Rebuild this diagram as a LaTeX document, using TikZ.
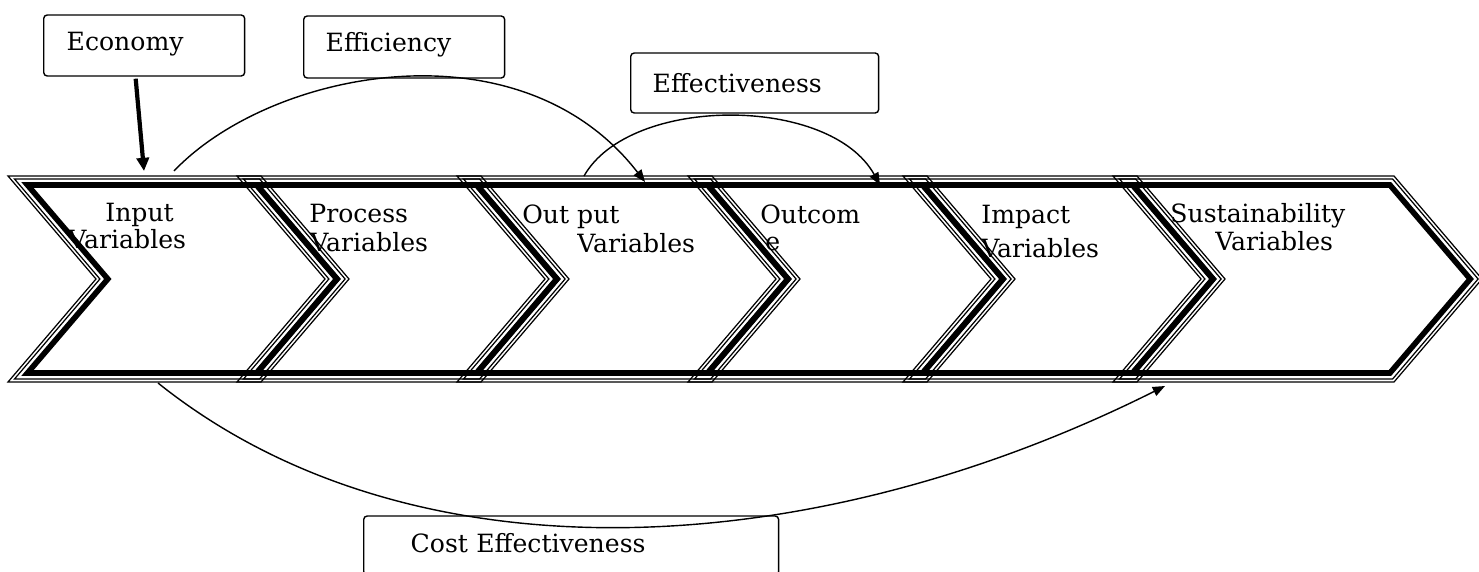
\documentclass[tikz,border=0pt]{standalone}
\usepackage{fontspec}
\setmainfont{DejaVu Serif}
\usetikzlibrary{arrows.meta}
\newcommand{\chevshape}[2]{%
 \draw[chevthin] (#1,176) -- (#2,176) -- ({#2+88},279) -- (#2,382) -- (#1,382) -- ({#1+88},279) -- cycle;
 \draw[chevthin] ({#1+6.5},179) -- ({#2-1.4},179) -- ({#2+84.1},279) -- ({#2-1.4},379) -- ({#1+6.5},379) -- ({#1+91.9},279) -- cycle;
 \draw[chevthick] ({#1+19.5},185) -- ({#2-4.1},185) -- ({#2+76.2},279) -- ({#2-4.1},373) -- ({#1+19.5},373) -- ({#1+99.8},279) -- cycle;
}
\begin{document}
\begin{tikzpicture}[x=0.02cm,y=-0.02cm,
 chevthin/.style={line width=0.7pt, line join=miter},
 chevthick/.style={line width=3.2pt, line join=miter},
 txt/.style={font=\fontsize{14.3pt}{17pt}\selectfont},
 lbl/.style={txt, anchor=base west, inner sep=0pt},
 box/.style={txt, draw, line width=0.8pt, rounded corners=2pt, anchor=base west, inner ysep=0pt, align=left},
 link/.style={line width=0.8pt, -{Triangle[length=7pt,width=5.5pt]}},
 econarrow/.style={line width=2.4pt, -{Triangle[length=7.5pt,width=7pt]}}]
\useasboundingbox (0,0) rectangle (1479,571);
\clip (0,0) rectangle (1479,571);

% chevrons
\chevshape{8}{261}
\chevshape{237}{481}
\chevshape{457}{712}
\chevshape{688}{927}
\chevshape{903}{1137}
\chevshape{1113}{1394}

% chevron texts
\node[lbl] (tIn1) at (105,221) {Input};
\node[lbl] (tIn2) at (68,248) {Variables};
\node[lbl] (tPr1) at (309,222) {Process};
\node[lbl] (tPr2) at (310,251) {Variables};
\node[lbl] (tOp1) at (522,223) {Out put};
\node[lbl] (tOp2) at (577,252) {Variables};
\node[lbl] (tOc1) at (760,223) {Outcom};
\node[lbl] (tOc2) at (765,250) {e};
\node[lbl] (tIm1) at (981,223) {Impact};
\node[lbl] (tIm2) at (981,257) {Variables};
\node[lbl] (tSu1) at (1170,222) {Sustainability};
\node[lbl] (tSu2) at (1215,250) {Variables};

% label boxes
\node[box, text height=0.72cm, text depth=0.5cm, inner xsep=0.46cm, text width=3.10cm] (econ) at (43,51) {Economy};
\node[box, text height=0.72cm, text depth=0.52cm, inner xsep=0.44cm, text width=3.14cm] (effic) at (303,52) {Efficiency};
\node[box, text height=0.78cm, text depth=0.42cm, inner xsep=0.44cm, text width=4.08cm] (effect) at (630,92) {Effectiveness};
\node[box, text height=0.72cm, text depth=0.46cm, inner xsep=0.94cm, text width=6.42cm] (cost) at (363,552) {Cost Effectiveness};

% connector end points
\coordinate (inTop) at (144,171);
\coordinate (effA) at (174,171);
\coordinate (effB) at (645,182);
\coordinate (ectA) at (584,176);
\coordinate (ectB) at (880,185);
\coordinate (costA) at (158,383);
\coordinate (costB) at (1165,386);

% connectors
\draw[econarrow] ([xshift=-0.17cm,yshift=-0.04cm]econ.south) -- (inTop);
\draw[link] (effA) .. controls (270,70) and (520,20) .. (effB);
\draw[link] (ectA) .. controls (630,95) and (830,95) .. (ectB);
\draw[link] (costA) .. controls (408,583) and (805,566) .. (costB);
\end{tikzpicture}
\end{document}
